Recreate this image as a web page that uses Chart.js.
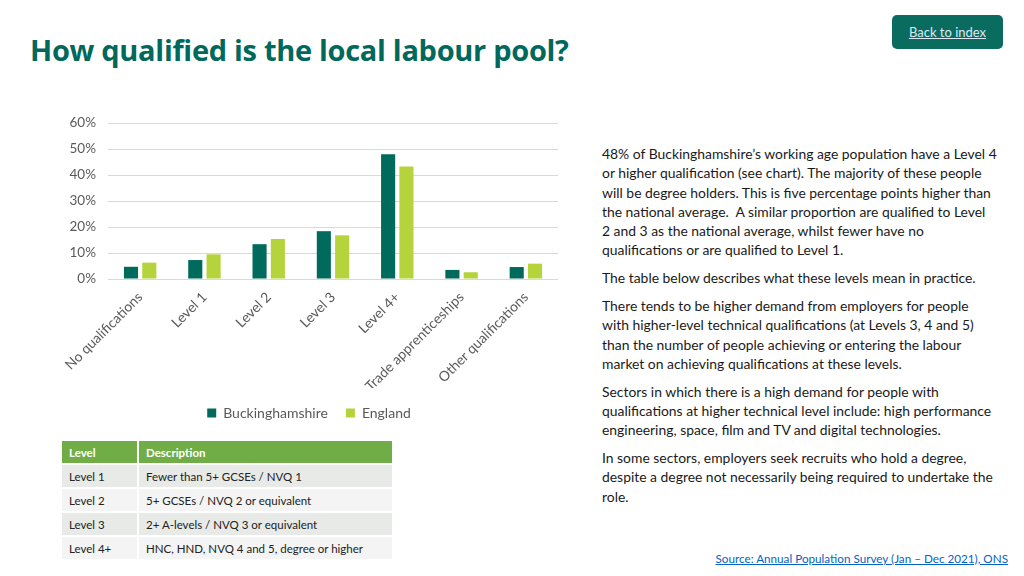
<!DOCTYPE html>
<html>
<head>
<meta charset="utf-8">
<script src="https://cdn.jsdelivr.net/npm/chart.js@4"></script>
<style>
  body { margin: 0; width: 1024px; height: 576px; background: #fff; font-family: Lato, "Open Sans", sans-serif; position: relative; overflow: hidden; }
  h1 { position: absolute; left: 30px; top: 30px; margin: 0; font-family: "Open Sans", sans-serif; font-size: 29px; font-weight: bold; color: #00695c; letter-spacing: -0.3px; }
  .back { position: absolute; left: 892px; top: 15px; width: 111px; height: 34px; background: #0a6b5f; border-radius: 5px; text-align: center; line-height: 34px; font-size: 13px; color: #dbe9f4; text-decoration: underline; }
  #chartBox { position: absolute; left: 60px; top: 103px; width: 506px; height: 329px; }
  .text { position: absolute; left: 602px; top: 144px; width: 396px; font-size: 13.9px; line-height: 19.3px; color: #1a1a1a; }
  .text p { margin: 0 0 8.5px 0; }
  table { position: absolute; left: 60px; top: 439px; width: 334px; border-collapse: collapse; font-size: 11.5px; color: #222; }
  td, th { height: 22px; padding: 0 0 0 7px; text-align: left; border: 2px solid #fff; }
  th { background: #70ad47; color: #fff; font-weight: bold; }
  tr:nth-child(odd) td { background: #e8eae8; }
  tr:nth-child(even) td { background: #f3f4f3; }
  .src { position: absolute; right: 16px; top: 551px; font-size: 11.7px; color: #0563c1; text-decoration: underline; }
</style>
</head>
<body>
<h1>How qualified is the local labour pool?</h1>
<div class="back">Back to index</div>
<div id="chartBox"><canvas id="chart"></canvas></div>

<table>
  <thead><tr><th style="width:68px">Level</th><th>Description</th></tr></thead>
  <tbody>
    <tr><td>Level 1</td><td>Fewer than 5+ GCSEs / NVQ 1</td></tr>
    <tr><td>Level 2</td><td>5+ GCSEs / NVQ 2 or equivalent</td></tr>
    <tr><td>Level 3</td><td>2+ A-levels / NVQ 3 or equivalent</td></tr>
    <tr><td>Level 4+</td><td>HNC, HND, NVQ 4 and 5, degree or higher</td></tr>
  </tbody>
</table>

<div class="text">
  <p>48% of Buckinghamshire’s working age population have a Level 4 or higher qualification (see chart). The majority of these people will be degree holders. This is five percentage points higher than the national average.&nbsp; A similar proportion are qualified to Level<br>2 and 3 as the national average, whilst fewer have no qualifications or are qualified to Level 1.</p>
  <p>The table below describes what these levels mean in practice.</p>
  <p>There tends to be higher demand from employers for people with higher-level technical qualifications (at Levels 3, 4 and 5) than the number of people achieving or entering the labour market on achieving qualifications at these levels.</p>
  <p>Sectors in which there is a high demand for people with qualifications at higher technical level include: high performance engineering, space, film and TV and digital technologies.</p>
  <p>In some sectors, employers seek recruits who hold a degree, despite a degree not necessarily being required to undertake the role.</p>
</div>

<div class="src">Source: Annual Population Survey (Jan – Dec 2021), ONS</div>

<script>
// chart data
const categories = ['No qualifications', 'Level 1', 'Level 2', 'Level 3', 'Level 4+', 'Trade apprenticeships', 'Other qualifications'];
const buckinghamshire = [4.7, 7.3, 13.4, 18.4, 48.0, 3.5, 4.6];
const england = [6.3, 9.5, 15.4, 16.8, 43.3, 2.6, 5.9];
const yTicks = [0, 10, 20, 30, 40, 50, 60];

const textColor = '#595959';
const gridColor = '#d9d9d9';

new Chart(document.getElementById('chart').getContext('2d'), {
  type: 'bar',
  data: {
    labels: categories,
    datasets: [
      {
        label: 'Buckinghamshire',
        data: buckinghamshire,
        backgroundColor: '#006a5d',
        categoryPercentage: 0.57,
        barPercentage: 0.77
      },
      {
        label: 'England',
        data: england,
        backgroundColor: '#b5d33b',
        categoryPercentage: 0.57,
        barPercentage: 0.77
      }
    ]
  },
  options: {
    responsive: true,
    maintainAspectRatio: false,
    animation: false,
    layout: { padding: { top: 6, right: 8, bottom: 2 } },
    plugins: {
      legend: {
        position: 'bottom',
        labels: {
          color: textColor,
          font: { family: 'Lato', size: 14 },
          boxWidth: 9,
          boxHeight: 9,
          padding: 18
        }
      },
      tooltip: { enabled: false }
    },
    scales: {
      x: {
        grid: { display: false },
        border: { display: false },
        afterFit: (scale) => { scale.height = 109; },
        ticks: {
          color: textColor,
          font: { family: 'Lato', size: 13.9 },
          maxRotation: 45,
          minRotation: 45,
          padding: 2
        }
      },
      y: {
        min: 0,
        max: 60,
        afterBuildTicks: (scale) => { scale.ticks = yTicks.map(v => ({ value: v })); },
        afterFit: (scale) => { scale.width = 48; },
        grid: { color: gridColor, drawTicks: false },
        border: { display: false },
        ticks: {
          color: textColor,
          font: { family: 'Lato', size: 13.5 },
          padding: 12,
          callback: (v) => v + '%'
        }
      }
    }
  }
});
</script>
</body>
</html>
